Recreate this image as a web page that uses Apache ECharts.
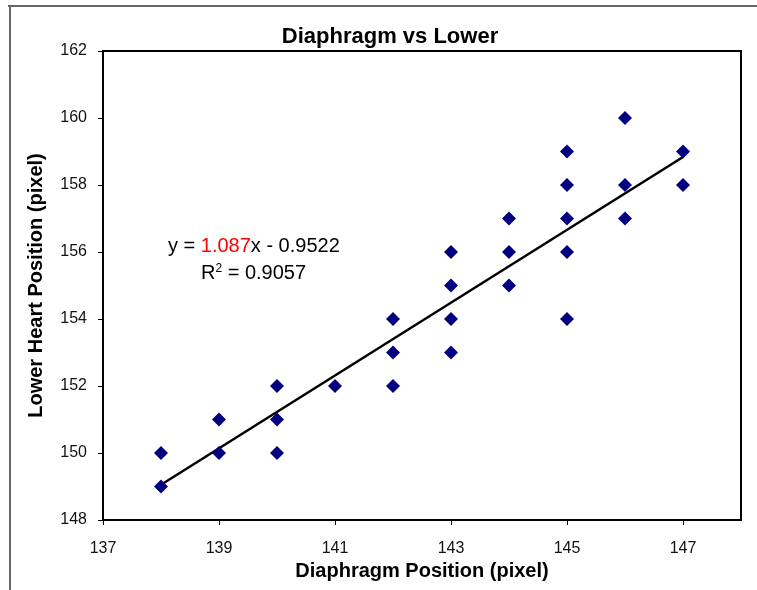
<!DOCTYPE html>
<html>
<head>
<meta charset="utf-8">
<script src="https://cdn.jsdelivr.net/npm/echarts@6/dist/echarts.min.js"></script>
<style>html,body{margin:0;padding:0;background:#fff}#c{width:757px;height:590px}</style>
</head>
<body>
<div id="c"></div>
<script>
const chartTitle = 'Diaphragm vs Lower';
const xTitle = 'Diaphragm Position (pixel)';
const yTitle = 'Lower Heart Position (pixel)';
const xTicks = [137, 139, 141, 143, 145, 147];
const diaphragm = [138,138,139,139,140,140,140,141,142,142,142,143,143,143,143,144,144,144,145,145,145,145,145,146,146,146,147,147];
const lowerHeart = [150,149,151,150,152,151,150,152,154,153,152,156,155,154,153,157,156,155,159,158,157,156,154,160,158,157,159,158];
const slope = 1.087, intercept = -0.9522, r2 = '0.9057';
const trendX = [138, 147];

const pts = diaphragm.map((x, i) => [x, lowerHeart[i]]);
const trend = trendX.map(x => [x, slope * x + intercept]);
const font = '"Liberation Sans", Arial, sans-serif';

const chart = echarts.init(document.getElementById('c'), null, {renderer: 'canvas'});
chart.setOption({
  animation: false,
  backgroundColor: '#fff',
  title: {
    text: chartTitle, left: 385, top: 21, textAlign: 'center',
    textStyle: {fontFamily: font, fontSize: 22, fontWeight: 'bold', color: '#000'}
  },
  grid: {left: 103, top: 51, width: 638, height: 469, show: true, borderColor: '#000', borderWidth: 2, backgroundColor: '#fff'},
  xAxis: {
    type: 'value', min: 137, max: 148, interval: 1,
    name: xTitle, nameLocation: 'middle', nameGap: 37,
    nameTextStyle: {fontFamily: font, fontSize: 20, fontWeight: 'bold', color: '#000'},
    axisLine: {show: true, onZero: false, lineStyle: {color: '#000', width: 2}},
    axisTick: {show: true, length: 5, customValues: xTicks, lineStyle: {color: '#000'}},
    axisLabel: {customValues: xTicks, margin: 21, fontFamily: font, fontSize: 16, color: '#111'},
    splitLine: {show: false}
  },
  yAxis: {
    type: 'value', min: 148, max: 162, interval: 2,
    name: yTitle, nameLocation: 'middle', nameGap: 57,
    nameTextStyle: {fontFamily: font, fontSize: 20, fontWeight: 'bold', color: '#000'},
    axisLine: {show: true, onZero: false, lineStyle: {color: '#000', width: 2}},
    axisTick: {show: true, length: 5, lineStyle: {color: '#000'}},
    axisLabel: {margin: 16, fontFamily: font, fontSize: 16, color: '#111'},
    splitLine: {show: false}
  },
  series: [
    {
      type: 'line', data: trend, symbol: 'none', z: 2,
      lineStyle: {color: '#000', width: 2.5}
    },
    {
      type: 'scatter', data: pts, symbol: 'diamond', symbolSize: 14, z: 3,
      itemStyle: {color: '#000080', opacity: 1}
    }
  ],
  graphic: [
    {type: 'line', shape: {x1: 8, y1: 6, x2: 757, y2: 6}, style: {stroke: '#666', lineWidth: 2}},
    {type: 'line', shape: {x1: 10, y1: 5, x2: 10, y2: 590}, style: {stroke: '#666', lineWidth: 2}},
    {
      type: 'text', left: 168, top: 236,
      style: {
        text: '{b|y = }{r|1.087}{b|x - 0.9522}',
        rich: {
          b: {fontFamily: font, fontSize: 20, fill: '#000'},
          r: {fontFamily: font, fontSize: 20, fill: '#ff0000'}
        }
      }
    },
    {
      type: 'text', left: 201, top: 263,
      style: {
        text: '{b|R}{s|2}{b| = ' + r2 + '}',
        rich: {
          b: {fontFamily: font, fontSize: 20, fill: '#000', verticalAlign: 'bottom'},
          s: {fontFamily: font, fontSize: 12, fill: '#000', verticalAlign: 'top'}
        }
      }
    }
  ]
});
</script>
</body>
</html>
